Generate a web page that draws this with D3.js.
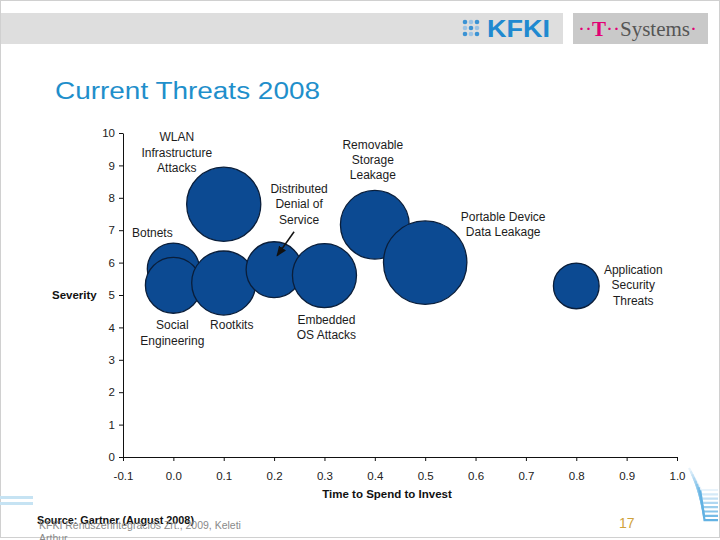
<!DOCTYPE html>
<html>
<head>
<meta charset="utf-8">
<script src="https://cdn.jsdelivr.net/npm/d3@7"></script>
<style>
  html, body { margin: 0; padding: 0; background: #fff; }
  svg { display: block; font-family: "Liberation Sans", Arial, sans-serif; }
</style>
</head>
<body>
<svg id="chart" width="720" height="540"></svg>
<script>
// ---- data ----
const threats = [
  "WLAN Infrastructure Attacks",
  "Botnets",
  "Social Engineering",
  "Rootkits",
  "Distributed Denial of Service",
  "Embedded OS Attacks",
  "Removable Storage Leakage",
  "Portable Device Data Leakage",
  "Application Security Threats"
];
const labelLines = [
  ["WLAN", "Infrastructure", "Attacks"],
  ["Botnets"],
  ["Social", "Engineering"],
  ["Rootkits"],
  ["Distributed", "Denial of", "Service"],
  ["Embedded", "OS Attacks"],
  ["Removable", "Storage", "Leakage"],
  ["Portable Device", "Data Leakage"],
  ["Application", "Security", "Threats"]
];
const timeToInvest = [0.1, 0.0, 0.0, 0.1, 0.2, 0.3, 0.4, 0.5, 0.8];
const severity     = [7.8, 5.8, 5.3, 5.37, 5.78, 5.6, 7.17, 6.0, 5.28];
const bubbleSize   = [79, 39, 45, 59, 45, 59, 68, 100, 30];
const xTicks = [-0.1, 0.0, 0.1, 0.2, 0.3, 0.4, 0.5, 0.6, 0.7, 0.8, 0.9, 1.0];
const xTickLabels = ["-0.1", "0.0", "0.1", "0.2", "0.3", "0.4", "0.5", "0.6", "0.7", "0.8", "0.9", "1.0"];
const yTicks = [0, 1, 2, 3, 4, 5, 6, 7, 8, 9, 10];
const xTitle = "Time to Spend to Invest";
const yTitle = "Severity";
const title = "Current Threats 2008";
const source = "Source: Gartner (August 2008)";
const footer = ["KFKI Rendszerintegrációs Zrt., 2009, Keleti", "Arthur"];
const pageNo = "17";

// label placement (pixel offsets from bubble centre, layout only)
const labelLayout = [
  {dx: -47, dy: -67},
  {dx: -21, dy: -36},
  {dx: -1,  dy: 40},
  {dx: 8,   dy: 42},
  {dx: 25,  dy: -81},
  {dx: 2,   dy: 44},
  {dx: -2,  dy: -80},
  {dx: 78,  dy: -46},
  {dx: 57,  dy: -16}
];

const svg = d3.select("#chart");

// ---- slide decoration ----
svg.append("rect").attr("x", 0.5).attr("y", 0.5).attr("width", 719).attr("height", 537)
  .attr("fill", "none").attr("stroke", "#d0d0d0").attr("stroke-width", 1);
svg.append("rect").attr("x", 1).attr("y", 13).attr("width", 562).attr("height", 31).attr("fill", "#dedede");
svg.append("rect").attr("x", 573).attr("y", 13).attr("width", 135).attr("height", 31).attr("fill", "#c9c9c9");

// KFKI logo
const dotG = svg.append("g");
for (let rr = 0; rr < 3; rr++) for (let c = 0; c < 3; c++) {
  dotG.append("circle").attr("cx", 465 + c * 6).attr("cy", 22 + rr * 6).attr("r", 2.3)
    .attr("fill", (rr + c) % 2 === 0 ? "#3b93d4" : "#9cc3e4");
}
svg.append("text").attr("x", 487).attr("y", 37).attr("font-size", 23).attr("font-weight", "bold")
  .attr("fill", "#2089d0").attr("textLength", 63).attr("lengthAdjust", "spacingAndGlyphs").text("KFKI");

// T-Systems logo
const ts = svg.append("text").attr("x", 578).attr("y", 36).attr("font-family", "'Liberation Serif', 'Times New Roman', serif")
  .attr("font-size", 21);
ts.append("tspan").attr("fill", "#e20074").text("··");
ts.append("tspan").attr("fill", "#e20074").attr("font-weight", "bold").text("T");
ts.append("tspan").attr("fill", "#e20074").text("··");
ts.append("tspan").attr("fill", "#555").text("Systems");
ts.append("tspan").attr("fill", "#e20074").text("·");

// bottom-left stripes
svg.append("rect").attr("x", 0).attr("y", 496).attr("width", 33).attr("height", 3).attr("fill", "#c6e3f3");
svg.append("rect").attr("x", 0).attr("y", 502).attr("width", 33).attr("height", 3).attr("fill", "#c6e3f3");

// bottom-right stripes
const stripeCol = d3.scaleLinear().domain([0, 7]).range(["#e8f3fb", "#62b2e3"]);
for (let i = 0; i < 8; i++) {
  const yEnd = 490 + i * 4.3;
  const x0 = 689 + i * 1.6, y0 = 468 + i * 3.2;
  svg.append("path")
    .attr("d", `M${x0},${y0} L${x0 + 12 - i * 1.1},${yEnd} L718,${yEnd}`)
    .attr("fill", "none").attr("stroke", stripeCol(i)).attr("stroke-width", 2.2);
}

// title
svg.append("text").attr("x", 55).attr("y", 99).attr("font-size", 23).attr("fill", "#1f8fcb")
  .attr("textLength", 265).attr("lengthAdjust", "spacingAndGlyphs").text(title);

// ---- chart ----
const x = d3.scaleLinear().domain([-0.1, 1.0]).range([123, 677]);
const y = d3.scaleLinear().domain([0, 10]).range([457, 133]);
const r = d3.scaleSqrt().domain([0, 100]).range([0, 41.7]);

const xAxis = d3.axisBottom(x).tickValues(xTicks).tickFormat((d, i) => xTickLabels[i]).tickSize(4).tickSizeOuter(0);
const yAxis = d3.axisLeft(y).tickValues(yTicks).tickFormat(d3.format("d")).tickSize(4).tickSizeOuter(0);

const gx = svg.append("g").attr("transform", `translate(0,${y(0)})`).call(xAxis);
gx.select(".domain").attr("stroke", "#111");
gx.selectAll(".tick line").attr("stroke", "#111");
gx.selectAll(".tick text").attr("font-size", 11.5).attr("fill", "#222").attr("dy", "1.35em")
  .attr("font-family", "'Liberation Sans', Arial, sans-serif");

const gy = svg.append("g").attr("transform", `translate(${x(-0.1)},0)`).call(yAxis);
gy.select(".domain").attr("stroke", "#111");
gy.selectAll(".tick line").attr("stroke", "#111");
gy.selectAll(".tick text").attr("font-size", 11.5).attr("fill", "#222").attr("x", -8)
  .attr("font-family", "'Liberation Sans', Arial, sans-serif");

svg.append("text").attr("x", 387).attr("y", 498).attr("text-anchor", "middle")
  .attr("font-size", 11.5).attr("font-weight", "bold").attr("fill", "#111").text(xTitle);
svg.append("text").attr("x", 52).attr("y", 299)
  .attr("font-size", 11.5).attr("font-weight", "bold").attr("fill", "#111").text(yTitle);

// bubbles
const data = threats.map((t, i) => ({name: t, lines: labelLines[i], tx: timeToInvest[i], sev: severity[i], size: bubbleSize[i], lay: labelLayout[i]}));

svg.append("g").selectAll("circle").data(data).join("circle")
  .attr("cx", d => x(d.tx)).attr("cy", d => y(d.sev)).attr("r", d => r(d.size))
  .attr("fill", "#0c4a92").attr("stroke", "#0a1e3a").attr("stroke-width", 1.3);

// labels
const lg = svg.append("g").attr("font-size", 12).attr("fill", "#1c1c1c");
data.forEach(d => {
  const cx = x(d.tx) + d.lay.dx, cy = y(d.sev) + d.lay.dy;
  const t = lg.append("text").attr("text-anchor", "middle");
  d.lines.forEach((ln, k) => {
    t.append("tspan").attr("x", cx).attr("y", cy + k * 15.3).attr("dy", "0.35em").text(ln);
  });
});

// arrow for DDoS
svg.append("defs").append("marker").attr("id", "ah").attr("viewBox", "0 0 10 10")
  .attr("refX", 9).attr("refY", 5).attr("markerWidth", 7).attr("markerHeight", 7).attr("orient", "auto")
  .append("path").attr("d", "M0,1 L10,5 L0,9 z").attr("fill", "#111");
const ddI = 4;
svg.append("line")
  .attr("x1", x(timeToInvest[ddI]) + 20).attr("y1", y(severity[ddI]) - 38)
  .attr("x2", x(timeToInvest[ddI]) + 3).attr("y2", y(severity[ddI]) - 14)
  .attr("stroke", "#111").attr("stroke-width", 1.5).attr("marker-end", "url(#ah)");

// footer
svg.append("text").attr("x", 37).attr("y", 524).attr("font-size", 11).attr("font-weight", "bold")
  .attr("fill", "#111").attr("textLength", 157).attr("lengthAdjust", "spacingAndGlyphs").text(source);
const ft = svg.append("text").attr("font-size", 10.5).attr("fill", "#8a8a8a");
footer.forEach((ln, k) => ft.append("tspan").attr("x", 39).attr("y", 529 + k * 13).text(ln));
svg.append("text").attr("x", 619).attr("y", 528).attr("font-size", 14).attr("fill", "#d0a23a").text(pageNo);
</script>
</body>
</html>
